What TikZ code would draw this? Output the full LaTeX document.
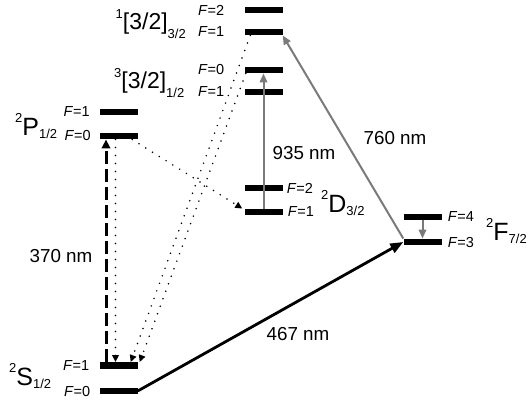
\documentclass[tikz,border=0pt]{standalone}
\usepackage{fontspec}
\setmainfont{Liberation Sans}
\usetikzlibrary{arrows.meta}
\definecolor{graycol}{HTML}{7A7A7A}
\newcommand\smallsz{\fontsize{13}{13}\selectfont}
\newcommand\bigsz{\fontsize{25}{25}\selectfont}
\begin{document}
\begin{tikzpicture}[x=1pt,y=-1pt,
  lvl/.style={fill=black,inner sep=0pt,minimum width=38pt,minimum height=6.5pt},
  flab/.style={inner sep=0pt,font=\fontsize{14.5}{15}\selectfont},
  term/.style={inner sep=0pt,anchor=base west},
  wl/.style={inner sep=0pt,font=\fontsize{18.8}{20}\selectfont},
  dots/.style={line width=1.7pt,line cap=round,dash pattern=on 0pt off 8pt,-{Triangle[length=7pt,width=6.5pt]}},
  grayarr/.style={draw=graycol,line width=2pt,-{Triangle[length=9pt,width=7.5pt,fill=graycol]}},
]
\useasboundingbox (0,0) rectangle (529,400);
% levels
\node[lvl] (s0) at (118.5,391) {};
\node[lvl] (s1) at (118.5,365.5) {};
\node[lvl] (p0) at (119,136) {};
\node[lvl] (p1) at (119,112) {};
\node[lvl] (b1) at (263.5,92) {};
\node[lvl] (b0) at (263.5,70) {};
\node[lvl] (a1) at (263.5,32) {};
\node[lvl] (a2) at (263.5,10) {};
\node[lvl] (d2) at (263.5,188) {};
\node[lvl] (d1) at (263.5,212) {};
\node[lvl] (f4) at (422.5,217) {};
\node[lvl] (f3) at (422.5,242) {};
% F labels
\node[flab,anchor=east] (ls0) at ([xshift=-9pt]s0.west) {\textit{F}=0};
\node[flab,anchor=east] (ls1) at ([xshift=-10pt]s1.west) {\textit{F}=1};
\node[flab,anchor=east] (lp0) at ([xshift=-9pt]p0.west) {\textit{F}=0};
\node[flab,anchor=east] (lp1) at ([xshift=-10pt]p1.west) {\textit{F}=1};
\node[flab,anchor=east] (lb1) at ([xshift=-20pt]b1.west) {\textit{F}=1};
\node[flab,anchor=east] (lb0) at ([xshift=-20pt]b0.west) {\textit{F}=0};
\node[flab,anchor=east] (la1) at ([xshift=-20pt]a1.west) {\textit{F}=1};
\node[flab,anchor=east] (la2) at ([xshift=-20pt]a2.west) {\textit{F}=2};
\node[flab,anchor=west] (ld2) at ([xshift=4pt]d2.east) {\textit{F}=2};
\node[flab,anchor=west] (ld1) at ([xshift=5pt]d1.east) {\textit{F}=1};
\node[flab,anchor=west] (lf4) at ([xshift=6pt]f4.east) {\textit{F}=4};
\node[flab,anchor=west] (lf3) at ([xshift=6pt]f3.east) {\textit{F}=3};
% term labels
\node[term] (ts) at (9,385) {\raisebox{13pt}{\smallsz 2}\bigsz S\raisebox{-3pt}{\smallsz 1/2}};
\node[term] (tp) at (15,135) {\raisebox{13pt}{\smallsz 2}\bigsz P\raisebox{-3pt}{\smallsz 1/2}};
\node[term] (td) at (321,212) {\raisebox{13pt}{\smallsz 2}\bigsz D\raisebox{-3pt}{\smallsz 3/2}};
\node[term] (tf) at (486,240) {\raisebox{13pt}{\smallsz 2}\bigsz F\raisebox{-3pt}{\smallsz 7/2}};
\node[term] (ta) at (115.5,29) {\raisebox{11pt}{\smallsz 1}\fontsize{23}{23}\selectfont[3/2]\raisebox{-9pt}{\smallsz 3/2}};
\node[term] (tb) at (114,88) {\raisebox{11pt}{\smallsz 3}\fontsize{23}{23}\selectfont[3/2]\raisebox{-9pt}{\smallsz 1/2}};
% wavelength labels
\node[wl] (w370) at (61,256) {370 nm};
\node[wl] (w467) at (298,334) {467 nm};
\node[wl] (w935) at (304,153.5) {935 nm};
\node[wl] (w760) at (395,138.5) {760 nm};
% transitions
\draw[line width=3pt,dash pattern=on 13pt off 5pt,-{Triangle[length=9pt,width=8.5pt]}]
  ([xshift=-12.5pt]s1.north) -- ([xshift=-12.5pt]s1.north |- p0.south);
\draw[dots] ([xshift=-3.5pt]p0.south) -- ([xshift=-3.5pt]p0.south |- s1.north);
\draw[dots] ([xshift=-6pt]p0.south east) -- ([xshift=-2pt]d1.north west);
\draw[dots] ([xshift=6pt]a1.south west) -- ([xshift=-7pt]s1.north east);
\draw[dots] ([xshift=1.5pt]b0.south west) -- ([xshift=2pt]s1.north east);
\draw[grayarr] (d1.north) -- (b0.south);
\draw[grayarr] (f3.north west) -- (a1.south east);
\draw[grayarr] (f4.south) -- (f3.north);
\draw[line width=2.8pt,-{Triangle[length=13pt,width=10pt]}] (s0.east) -- (f3.west);
\end{tikzpicture}
\end{document}
